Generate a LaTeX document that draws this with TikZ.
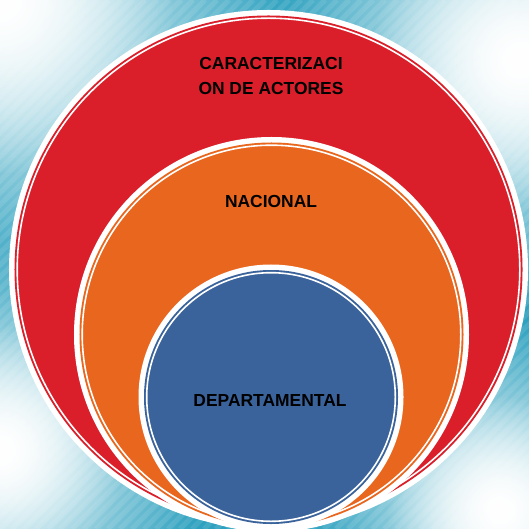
\documentclass[tikz,border=0pt]{standalone}
\usepackage{fontspec}
\setsansfont{Liberation Sans}
\usetikzlibrary{fadings}
\definecolor{bgteal}{HTML}{2DA1BF}
\definecolor{ringred}{HTML}{DA1F2A}
\definecolor{ringorange}{HTML}{E9661E}
\definecolor{ringblue}{HTML}{3A639B}
\tikzfading[name=glow, inner color=transparent!0, outer color=transparent!100]

\begin{document}
\begin{tikzpicture}[x=1bp,y=-1bp,
        ringtext/.style = {font=\sffamily\bfseries\fontsize{17.5}{25}\selectfont,
                           align=center, text=black, inner sep=0pt},
        stripe/.style = {white,opacity=0.10,line width=5bp}]
    \useasboundingbox (0,0) rectangle (529,529);

    % background with glows and stripes
    \fill[bgteal] (0,0) rectangle (529,529);
    \begin{scope}
        \clip (0,0) rectangle (529,529);
        \foreach \gx/\gy/\gr in {0/0/290, 520/60/250, 0/450/210, 500/510/190}{
            \pgfmathsetmacro\gsmall{0.6*\gr}
            \fill[white,path fading=glow] (\gx,\gy) circle (\gr bp);
            \fill[white,path fading=glow] (\gx,\gy) circle (\gsmall bp);
        }
        \foreach \k in {-540,-528,...,540}
            \draw[stripe] (\k,529) -- (\k+529,0);
    \end{scope}

    % the three rings: centre x, centre y, outer radius, colour
    \foreach \cx/\cy/\r/\col in {268.5/269.5/259.5/ringred,
                                 271.5/334.5/197.5/ringorange,
                                 271/397/132.5/ringblue}{
        \pgfmathsetmacro\rfill{\r-5.5}
        \pgfmathsetmacro\rline{\r-8.2}
        \fill[white] (\cx,\cy) circle (\r bp);
        \fill[\col] (\cx,\cy) circle (\rfill bp);
        \draw[white,line width=1.6bp] (\cx,\cy) circle (\rline bp);
    }

    \node[ringtext,anchor=base] (actores) at (271,70) {CARACTERIZACI};
    \node[ringtext,anchor=base] (actores2) at (271,95) {ON DE ACTORES};
    \node[ringtext,anchor=base] (nacional) at (271,208) {NACIONAL};
    \node[ringtext,anchor=base] (departamental) at (270,406) {DEPARTAMENTAL};
\end{tikzpicture}
\end{document}
